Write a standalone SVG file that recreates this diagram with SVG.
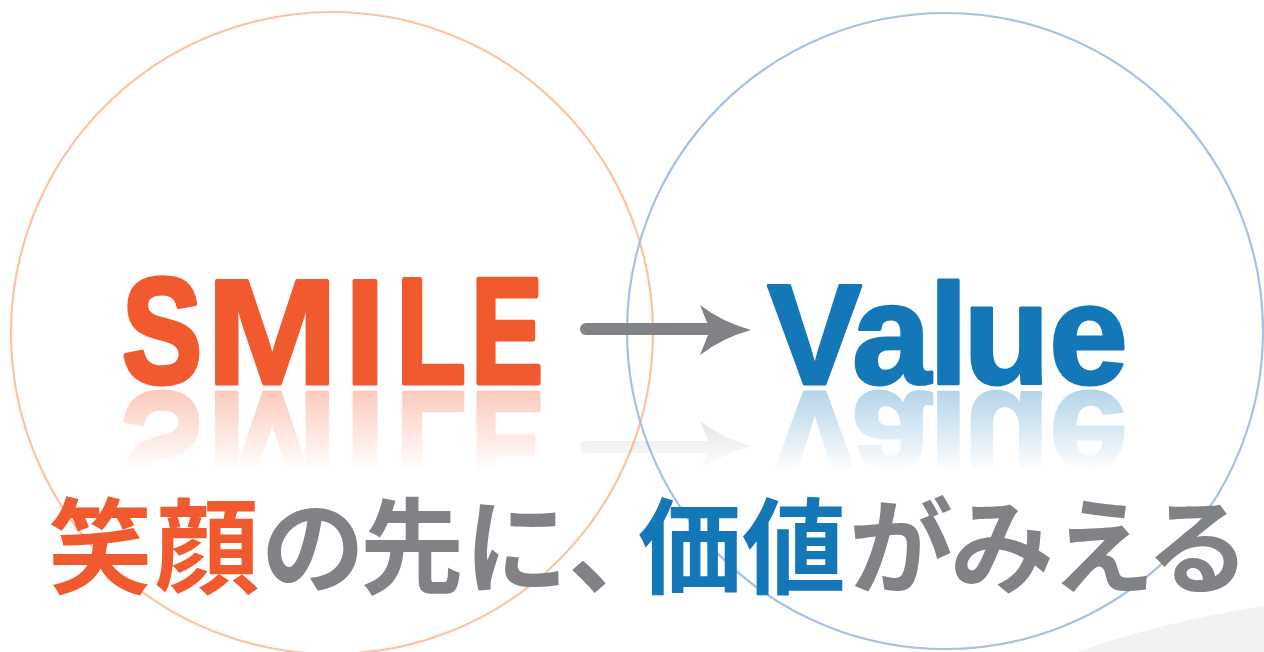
<svg xmlns="http://www.w3.org/2000/svg" xmlns:xlink="http://www.w3.org/1999/xlink" width="1264" height="652" viewBox="0 0 1264 652">
<style>
.ring{fill:none;stroke-width:2.2}
.en{font-family:"Liberation Sans",Arial,sans-serif;font-weight:700;stroke-linejoin:round;text-anchor:middle}
.orange{fill:#F15A2F;stroke:#F15A2F}
.blue{fill:#1478B8;stroke:#1478B8}
.jp{font-family:"Noto Sans CJK JP",sans-serif;font-weight:700;font-size:104px}
.halt{font-feature-settings:"halt" 1}
</style>
<defs>
<linearGradient id="fade" gradientUnits="userSpaceOnUse" x1="0" y1="390" x2="0" y2="472">
<stop offset="0" stop-color="#fff" stop-opacity="0.32"/>
<stop offset="1" stop-color="#fff" stop-opacity="0"/>
</linearGradient>
<mask id="refl" maskUnits="userSpaceOnUse" x="0" y="380" width="1264" height="120">
<rect x="0" y="380" width="1264" height="120" fill="url(#fade)"/>
</mask>
</defs>
<rect width="1264" height="652" fill="#fff"/>
<path d="M1078 652 Q1160 622 1264 606 V652 Z" fill="#F2F2F2"/>
<g id="circle-smile"><circle class="ring" cx="332" cy="333" r="321" stroke="#FBC3A4"/></g>
<g id="circle-value"><circle class="ring" cx="945" cy="331" r="318" stroke="#A8C0E4"/></g>
<g id="smile">
<g id="smileText" class="en orange">
<text font-size="150" stroke-width="5" transform="translate(162 382.5) scale(0.8 1)">S</text>
<text font-size="151" stroke-width="3" transform="translate(272 383.5) scale(1.05 1)">M</text>
<text font-size="151" stroke-width="3" transform="translate(365 383.5)">I</text>
<text font-size="150" stroke-width="5" transform="translate(431 382.5) scale(0.76 1)">L</text>
<text font-size="150" stroke-width="5" transform="translate(507 382.5) scale(0.72 1)">E</text>
</g>
</g>
<g id="value">
<text id="valueText" class="en blue" font-size="142" stroke-width="3" x="814.5 891.5 948.5 1006.5 1088.5" y="383.5">Value</text>
</g>
<g id="connectors">
<g id="arrow">
<path d="M586 329 H708" stroke="#808285" stroke-width="12" stroke-linecap="round" fill="none"/>
<path d="M700 305 Q722 322 751 330 Q722 338 700 355 L710 330 Z" fill="#808285"/>
</g>
</g>
<g id="reflection" mask="url(#refl)">
<g transform="translate(0 776) scale(1 -1)">
<use xlink:href="#smileText"/>
<use xlink:href="#valueText"/>
<use xlink:href="#arrow"/>
</g>
</g>
<g id="tagline">
<text class="jp" y="586"><tspan fill="#F15A2F" x="48 155">笑顔</tspan><tspan fill="#808285" x="261 360 464">の先に</tspan><tspan class="halt" fill="#808285" x="568">、</tspan><tspan fill="#1478B8" x="638 742">価値</tspan><tspan fill="#808285" x="849 950 1051 1146">がみえる</tspan></text>
</g>
</svg>
